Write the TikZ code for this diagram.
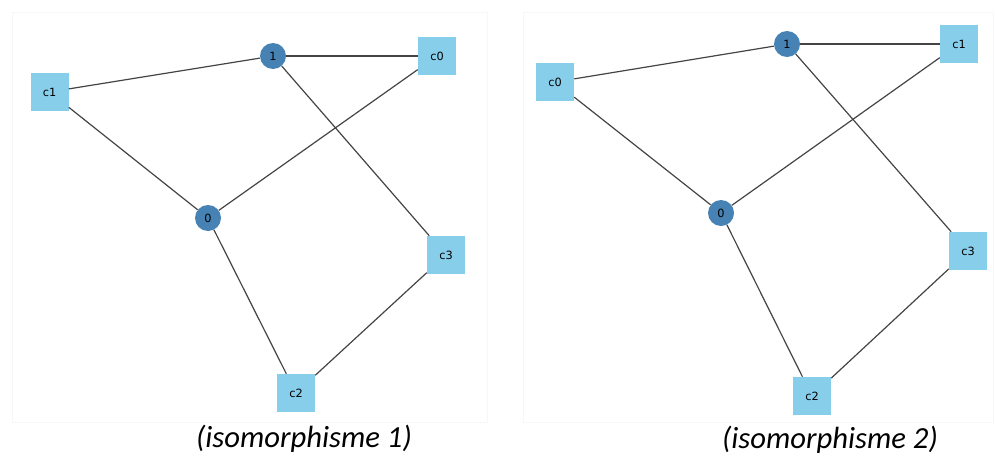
\documentclass[tikz,border=0pt]{standalone}
\usepackage{fontspec}
\setmainfont{DejaVu Sans}
\newfontfamily\capfont{Carlito}
\usepackage{tikz}

\definecolor{sqblue}{HTML}{87CEEB}
\definecolor{ptblue}{HTML}{4682B4}
\definecolor{edgegray}{HTML}{444444}

\begin{document}
\begin{tikzpicture}[x=0.75pt,y=-0.75pt,
  vnode/.style={circle,fill=ptblue,inner sep=0pt,minimum size=19.5pt,font=\fontsize{8.5}{9}\selectfont},
  cnode/.style={rectangle,fill=sqblue,inner sep=0pt,minimum size=28.5pt,font=\fontsize{8.5}{9}\selectfont},
  link/.style={draw=edgegray,line width=0.9pt},
  panel/.style={draw=black!3,line width=0.6pt},
  captext/.style={font=\capfont\itshape\fontsize{23}{26}\selectfont}]
  \useasboundingbox (0,0) rectangle (995,457);
  % panel frames
  \draw[panel] (12,12) rectangle (487,422);
  \draw[panel] (523,12) rectangle (993,422);
  % isomorphisme 1
  \node[vnode] (l1) at (273,56) {1};
  \node[vnode] (l0) at (208,218) {0};
  \node[cnode] (lc0) at (437,56) {c0};
  \node[cnode] (lc1) at (49.5,92) {c1};
  \node[cnode] (lc2) at (296,393) {c2};
  \node[cnode] (lc3) at (446,255) {c3};
  \draw[link] (l1) -- (lc1);
  \draw[link] (l1) -- (lc0);
  \draw[link] (l1) -- (lc3);
  \draw[link] (lc1) -- (l0);
  \draw[link] (l0) -- (lc0);
  \draw[link] (l0) -- (lc2);
  \draw[link] (lc2) -- (lc3);
  \node[captext] (cap1) at (304,439) {(isomorphisme 1)};
  % isomorphisme 2
  \node[vnode] (r1) at (787,44) {1};
  \node[vnode] (r0) at (721,213) {0};
  \node[cnode] (rc0) at (555,82) {c0};
  \node[cnode] (rc1) at (959,44) {c1};
  \node[cnode] (rc2) at (812,396) {c2};
  \node[cnode] (rc3) at (968,251) {c3};
  \draw[link] (r1) -- (rc0);
  \draw[link] (r1) -- (rc1);
  \draw[link] (r1) -- (rc3);
  \draw[link] (rc0) -- (r0);
  \draw[link] (r0) -- (rc1);
  \draw[link] (r0) -- (rc2);
  \draw[link] (rc2) -- (rc3);
  \node[captext] (cap2) at (830,440) {(isomorphisme 2)};
\end{tikzpicture}
\end{document}
